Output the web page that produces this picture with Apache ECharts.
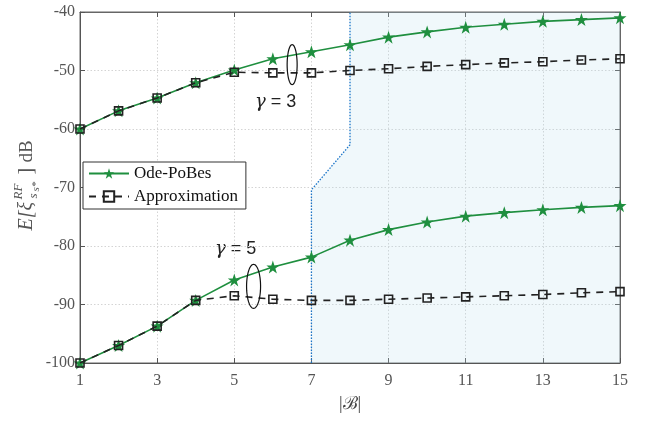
<!DOCTYPE html>
<html><head><meta charset="utf-8">
<script src="https://cdn.jsdelivr.net/npm/echarts@6/dist/echarts.min.js"></script>
<style>html,body{margin:0;padding:0;background:#fff}#c{width:650px;height:422px}</style>
</head><body><div id="c"></div>
<script>
var categories = ['1','2','3','4','5','6','7','8','9','10','11','12','13','14','15'];
var yTicks = [-100,-90,-80,-70,-60,-50,-40];
var odeG3 = [-60,-56.9,-54.7,-52.1,-49.9,-48.0,-46.8,-45.6,-44.3,-43.4,-42.6,-42.1,-41.6,-41.3,-41.0];
var apxG3 = [-60,-56.9,-54.7,-52.1,-50.3,-50.4,-50.4,-50.0,-49.7,-49.3,-49.0,-48.7,-48.5,-48.2,-48.0];
var odeG5 = [-100,-97.0,-93.7,-89.3,-85.8,-83.6,-81.9,-79.0,-77.2,-75.9,-74.9,-74.3,-73.8,-73.4,-73.1];
var apxG5 = [-100,-97.0,-93.7,-89.3,-88.5,-89.1,-89.3,-89.3,-89.1,-88.9,-88.7,-88.5,-88.3,-88.0,-87.8];
var boundaryX = [7,7,8,8];
var boundaryY = [-100,-70.4,-62.7,-40];
var regionEnd = 15;

var GREEN = '#1f8f3f';
var STAR = 'path://M50,0 L61.8,35.4 L99,35.4 L69,57.3 L80.4,92.7 L50,70.8 L19.6,92.7 L31,57.3 L1,35.4 L38.2,35.4 Z';
var FONT = 'Liberation Serif';

function idx(x){ return x - 1; }
// pixel position for fractional x on the category axis (linear between category points)
function coordF(api, x, y){
  var i0 = Math.floor(idx(x)), f = idx(x) - i0;
  var a = api.coord([i0, y]), b = api.coord([Math.min(i0+1, categories.length-1), y]);
  return [a[0] + (b[0]-a[0])*f, a[1]];
}

var chart = echarts.init(document.getElementById('c'));

function lineSeries(name, data, isApx){
  return {
    name: name, type: 'line', data: data, z: isApx ? 4 : 3,
    symbol: isApx ? 'rect' : STAR,
    symbolSize: isApx ? 8 : 13,
    showAllSymbol: true,
    lineStyle: isApx ? {color:'#222', width:1.6, type:[7,6]} : {color:GREEN, width:1.6},
    itemStyle: isApx ? {color:'rgba(0,0,0,0)', borderColor:'#222', borderWidth:1.6} : {color:GREEN},
    emphasis: {disabled:true}, animation:false
  };
}

var regionSeries = {
  type: 'custom', z: 1, silent: true, animation:false,
  data: [0],
  renderItem: function(params, api){
    var pts = [];
    for (var i=0;i<boundaryX.length;i++) pts.push(api.coord([idx(boundaryX[i]), boundaryY[i]]));
    var fill = pts.slice();
    fill.push(api.coord([idx(regionEnd), boundaryY[boundaryY.length-1]]));
    fill.push(api.coord([idx(regionEnd), boundaryY[0]]));
    return {type:'group', children:[
      {type:'polygon', shape:{points:fill}, style:{fill:'rgba(185,222,238,0.22)', stroke:null}},
      {type:'polyline', shape:{points:pts}, style:{stroke:'#1a74c8', lineWidth:1.3, lineDash:[1.5,1.5], fill:null}}
    ]};
  }
};

function ellipseSeries(cx, cy, rx, ry){
  return {
    type:'custom', z:5, silent:true, animation:false, data:[0],
    renderItem: function(params, api){
      var p = coordF(api, cx, cy), pts = [];
      for (var k=0;k<64;k++){ var t = k/64*2*Math.PI; pts.push([p[0]+rx*Math.cos(t), p[1]+ry*Math.sin(t)]); }
      return {type:'polygon', shape:{points:pts, smooth:0}, style:{fill:null, stroke:'#111', lineWidth:1.2}};
    }
  };
}

var gRich = {g:{fontStyle:'italic', fontFamily:'DejaVu Serif', fontSize:18, fill:'#222'}};

chart.setOption({
  animation:false,
  grid:{left:80, right:30, top:12, bottom:59, show:true, borderColor:'#666', borderWidth:1},
  legend:{
    orient:'vertical', left:83, top:162, padding:[3,8,4,5], itemGap:6,
    backgroundColor:'#fff', borderColor:'#333', borderWidth:1,
    itemWidth:40, itemHeight:13,
    textStyle:{fontFamily:FONT, fontSize:17, color:'#111', padding:[0,0,0,0]},
    data:['Ode-PoBes','Approximation']
  },
  xAxis:[{
    type:'category', data:categories, boundaryGap:false,
    axisLine:{lineStyle:{color:'#555'}},
    axisTick:{inside:true, length:5, interval:1, lineStyle:{color:'#555'}},
    axisLabel:{interval:1, fontFamily:FONT, fontSize:16, color:'#555', margin:10},
    splitLine:{show:true, interval:1, lineStyle:{color:'#d4d4d4', type:[1.5,2]}}
  },{
    type:'category', data:categories, boundaryGap:false, position:'top',
    axisLine:{lineStyle:{color:'#666'}},
    axisTick:{inside:true, length:5, interval:1, lineStyle:{color:'#555'}},
    axisLabel:{show:false}, splitLine:{show:false}
  }],
  yAxis:[{
    type:'value', min:-100, max:-40, interval:10,
    axisLine:{show:true, lineStyle:{color:'#555'}},
    axisTick:{show:true, inside:true, length:5, lineStyle:{color:'#555'}},
    axisLabel:{fontFamily:FONT, fontSize:16, color:'#555', margin:5,
      formatter:function(v){ return String(v); }},
    splitLine:{show:true, lineStyle:{color:'#d4d4d4', type:[1.5,2]}}
  },{
    type:'value', min:-100, max:-40, interval:10, position:'right',
    axisLine:{show:true, lineStyle:{color:'#666'}},
    axisTick:{show:true, inside:true, length:5, lineStyle:{color:'#555'}},
    axisLabel:{show:false}, splitLine:{show:false}
  }],
  series:[
    regionSeries,
    lineSeries('Ode-PoBes', odeG3, false),
    lineSeries('Approximation', apxG3, true),
    lineSeries('Ode-PoBes', odeG5, false),
    lineSeries('Approximation', apxG5, true),
    ellipseSeries(6.5, -49.0, 5, 20),
    ellipseSeries(5.5, -86.9, 7, 22)
  ],
  graphic:[
    {type:'text', left:255, top:93, style:{text:'{g|γ} = 3', rich:gRich, fontFamily:'Liberation Sans', fontSize:18, fill:'#222'}},
    {type:'text', left:215, top:240, style:{text:'{g|γ} = 5', rich:gRich, fontFamily:'Liberation Sans', fontSize:18, fill:'#222'}},
    {type:'text', x:350, y:404, style:{text:'|ℬ|', fontFamily:FONT, fontSize:18, fill:'#444', align:'center', verticalAlign:'middle'}},
    {type:'group', x:27, y:186.5, rotation:Math.PI/2, children:[
      {type:'text', x:-44, y:0, style:{text:'E[ξ', fontFamily:FONT, fontStyle:'italic', fontSize:20, fill:'#555', verticalAlign:'middle', align:'left'}},
      {type:'text', x:-13, y:-8, style:{text:'RF', fontFamily:FONT, fontStyle:'italic', fontSize:13, fill:'#555', verticalAlign:'middle', align:'left'}},
      {type:'text', x:-12, y:7, style:{text:'s', fontFamily:FONT, fontStyle:'italic', fontSize:13, fill:'#555', verticalAlign:'middle', align:'left'}},
      {type:'text', x:-5, y:9, style:{text:'s*', fontFamily:FONT, fontStyle:'italic', fontSize:11, fill:'#555', verticalAlign:'middle', align:'left'}},
      {type:'text', x:12, y:0, style:{text:']', fontFamily:FONT, fontSize:20, fill:'#555', verticalAlign:'middle', align:'left'}},
      {type:'text', x:24, y:0, style:{text:'dB', fontFamily:FONT, fontSize:19, fill:'#555', verticalAlign:'middle', align:'left'}}
    ]}
  ]
});
</script></body></html>
